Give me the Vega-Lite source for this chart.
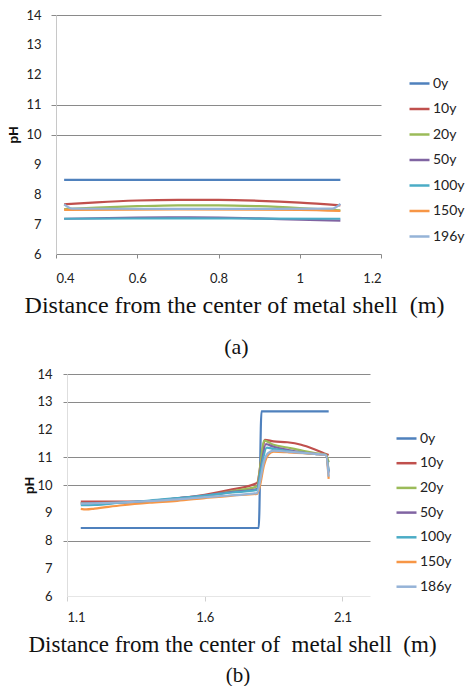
{
  "$schema": "https://vega.github.io/schema/vega-lite/v6.json",
  "padding": {"left": 7, "top": 9, "right": 0, "bottom": 0},
  "background": "white",
  "spacing": 120,
  "align": "all",
  "bounds": "flush",
  "center": true,
  "config": {
    "view": {"stroke": null},
    "font": "Lato",
    "axis": {"labelFont": "Lato", "labelColor": "#222", "labelFontSize": 13, "titleFont": "Liberation Serif", "titleFontWeight": "normal", "titleColor": "#111"},
    "legend": {"labelFont": "Lato", "labelColor": "#222", "padding": 0}
  },
  "resolve": {"scale": {"color": "independent"}},
  "vconcat": [
    {
      "width": 325,
      "height": 239,
      "data": {"values": [
        {"series": "0y", "x": 0.42, "pH": 8.48}, {"series": "0y", "x": 0.7, "pH": 8.48}, {"series": "0y", "x": 1.1, "pH": 8.48},
        {"series": "10y", "x": 0.42, "pH": 7.66}, {"series": "10y", "x": 0.5, "pH": 7.73}, {"series": "10y", "x": 0.6, "pH": 7.79}, {"series": "10y", "x": 0.7, "pH": 7.81}, {"series": "10y", "x": 0.8, "pH": 7.81}, {"series": "10y", "x": 0.9, "pH": 7.78}, {"series": "10y", "x": 1.0, "pH": 7.72}, {"series": "10y", "x": 1.1, "pH": 7.63},
        {"series": "20y", "x": 0.42, "pH": 7.5}, {"series": "20y", "x": 0.5, "pH": 7.55}, {"series": "20y", "x": 0.6, "pH": 7.6}, {"series": "20y", "x": 0.7, "pH": 7.63}, {"series": "20y", "x": 0.8, "pH": 7.63}, {"series": "20y", "x": 0.9, "pH": 7.6}, {"series": "20y", "x": 1.0, "pH": 7.54}, {"series": "20y", "x": 1.1, "pH": 7.46},
        {"series": "50y", "x": 0.42, "pH": 7.18}, {"series": "50y", "x": 0.6, "pH": 7.22}, {"series": "50y", "x": 0.7, "pH": 7.23}, {"series": "50y", "x": 0.8, "pH": 7.22}, {"series": "50y", "x": 0.9, "pH": 7.19}, {"series": "50y", "x": 1.0, "pH": 7.15}, {"series": "50y", "x": 1.1, "pH": 7.12},
        {"series": "100y", "x": 0.42, "pH": 7.18}, {"series": "100y", "x": 0.7, "pH": 7.19}, {"series": "100y", "x": 1.1, "pH": 7.18},
        {"series": "150y", "x": 0.42, "pH": 7.48}, {"series": "150y", "x": 0.7, "pH": 7.49}, {"series": "150y", "x": 1.0, "pH": 7.48}, {"series": "150y", "x": 1.1, "pH": 7.44},
        {"series": "196y", "x": 0.42, "pH": 7.66}, {"series": "196y", "x": 0.44, "pH": 7.52}, {"series": "196y", "x": 0.7, "pH": 7.51}, {"series": "196y", "x": 1.08, "pH": 7.52}, {"series": "196y", "x": 1.1, "pH": 7.68}
      ]},
      "mark": {"type": "line", "strokeWidth": 2.2, "interpolate": "monotone"},
      "encoding": {
        "x": {"field": "x", "type": "quantitative", "scale": {"domain": [0.4, 1.2], "nice": false, "zero": false},
          "axis": {"values": [0.4, 0.6, 0.8, 1.0, 1.2], "format": "~g", "grid": false, "domainColor": "#8a8a8a", "tickColor": "#8a8a8a", "tickSize": 4, "labelPadding": 14,
            "title": "Distance from the center of metal shell\u00a0\u00a0(m)", "titleFontSize": 24, "titlePadding": 8, "titleX": 178}},
        "y": {"field": "pH", "type": "quantitative", "scale": {"domain": [6, 14], "nice": false, "zero": false},
          "axis": {"values": [6, 7, 8, 9, 10, 11, 12, 13, 14], "grid": true, "gridColor": "#8a8a8a",
            "gridOpacity": {"condition": {"test": "datum.value == 14 || datum.value == 11 || datum.value == 10", "value": 1}, "value": 0},
            "tickColor": "#8a8a8a", "tickOpacity": {"condition": {"test": "datum.value == 14 || datum.value == 11 || datum.value == 10", "value": 1}, "value": 0},
            "tickSize": 5, "labelPadding": 10, "domainColor": "#c8c8c8",
            "title": "pH", "titleFont": "Liberation Sans", "titleFontWeight": "bold", "titleFontSize": 13, "titlePadding": 5}},
        "color": {"field": "series", "type": "nominal",
          "scale": {"domain": ["0y", "10y", "20y", "50y", "100y", "150y", "196y"], "range": ["#4F81BD", "#C0504D", "#9BBB59", "#8064A2", "#4BACC6", "#F79646", "#95B3D7"]},
          "legend": {"title": null, "orient": "none", "legendX": 352, "legendY": 57, "symbolType": "stroke", "symbolSize": 400, "symbolStrokeWidth": 2.5, "labelFontSize": 14, "labelOffset": 2, "rowPadding": 6.5}}
      },
      "title": {"text": "(a)", "orient": "bottom", "font": "Liberation Serif", "fontSize": 22, "fontWeight": "normal", "color": "#111", "anchor": "middle", "frame": "bounds", "offset": 20}
    },
    {
      "width": 303,
      "height": 222,
      "data": {"values": [
        {"series": "0y", "x": 1.15, "pH": 8.45}, {"series": "0y", "x": 1.796, "pH": 8.45}, {"series": "0y", "x": 1.806, "pH": 12.65}, {"series": "0y", "x": 2.05, "pH": 12.65},
        {"series": "10y", "x": 1.15, "pH": 9.4}, {"series": "10y", "x": 1.3, "pH": 9.4}, {"series": "10y", "x": 1.4, "pH": 9.42}, {"series": "10y", "x": 1.5, "pH": 9.52}, {"series": "10y", "x": 1.6, "pH": 9.65}, {"series": "10y", "x": 1.7, "pH": 9.84}, {"series": "10y", "x": 1.79, "pH": 10.07}, {"series": "10y", "x": 1.805, "pH": 10.9}, {"series": "10y", "x": 1.818, "pH": 11.63}, {"series": "10y", "x": 1.85, "pH": 11.57}, {"series": "10y", "x": 1.9, "pH": 11.54}, {"series": "10y", "x": 1.95, "pH": 11.45}, {"series": "10y", "x": 2.0, "pH": 11.28}, {"series": "10y", "x": 2.04, "pH": 11.12}, {"series": "10y", "x": 2.05, "pH": 11.08},
        {"series": "20y", "x": 1.15, "pH": 9.35}, {"series": "20y", "x": 1.3, "pH": 9.37}, {"series": "20y", "x": 1.4, "pH": 9.4}, {"series": "20y", "x": 1.5, "pH": 9.46}, {"series": "20y", "x": 1.6, "pH": 9.6}, {"series": "20y", "x": 1.7, "pH": 9.78}, {"series": "20y", "x": 1.79, "pH": 9.95}, {"series": "20y", "x": 1.803, "pH": 10.8}, {"series": "20y", "x": 1.815, "pH": 11.6}, {"series": "20y", "x": 1.85, "pH": 11.45}, {"series": "20y", "x": 1.9, "pH": 11.35}, {"series": "20y", "x": 1.95, "pH": 11.25}, {"series": "20y", "x": 2.0, "pH": 11.15}, {"series": "20y", "x": 2.04, "pH": 11.1}, {"series": "20y", "x": 2.05, "pH": 10.82},
        {"series": "50y", "x": 1.15, "pH": 9.33}, {"series": "50y", "x": 1.3, "pH": 9.37}, {"series": "50y", "x": 1.4, "pH": 9.42}, {"series": "50y", "x": 1.5, "pH": 9.52}, {"series": "50y", "x": 1.6, "pH": 9.62}, {"series": "50y", "x": 1.7, "pH": 9.75}, {"series": "50y", "x": 1.79, "pH": 9.85}, {"series": "50y", "x": 1.805, "pH": 10.7}, {"series": "50y", "x": 1.822, "pH": 11.47}, {"series": "50y", "x": 1.85, "pH": 11.38}, {"series": "50y", "x": 1.9, "pH": 11.27}, {"series": "50y", "x": 1.95, "pH": 11.18}, {"series": "50y", "x": 2.0, "pH": 11.12}, {"series": "50y", "x": 2.04, "pH": 11.08}, {"series": "50y", "x": 2.05, "pH": 10.45},
        {"series": "100y", "x": 1.15, "pH": 9.27}, {"series": "100y", "x": 1.2, "pH": 9.28}, {"series": "100y", "x": 1.3, "pH": 9.37}, {"series": "100y", "x": 1.4, "pH": 9.44}, {"series": "100y", "x": 1.5, "pH": 9.53}, {"series": "100y", "x": 1.6, "pH": 9.62}, {"series": "100y", "x": 1.7, "pH": 9.73}, {"series": "100y", "x": 1.79, "pH": 9.82}, {"series": "100y", "x": 1.805, "pH": 10.6}, {"series": "100y", "x": 1.825, "pH": 11.35}, {"series": "100y", "x": 1.85, "pH": 11.3}, {"series": "100y", "x": 1.9, "pH": 11.22}, {"series": "100y", "x": 2.0, "pH": 11.12}, {"series": "100y", "x": 2.04, "pH": 11.08}, {"series": "100y", "x": 2.05, "pH": 10.5},
        {"series": "150y", "x": 1.15, "pH": 9.14}, {"series": "150y", "x": 1.17, "pH": 9.12}, {"series": "150y", "x": 1.2, "pH": 9.15}, {"series": "150y", "x": 1.3, "pH": 9.27}, {"series": "150y", "x": 1.4, "pH": 9.36}, {"series": "150y", "x": 1.5, "pH": 9.43}, {"series": "150y", "x": 1.6, "pH": 9.53}, {"series": "150y", "x": 1.7, "pH": 9.62}, {"series": "150y", "x": 1.79, "pH": 9.68}, {"series": "150y", "x": 1.8, "pH": 9.95}, {"series": "150y", "x": 1.815, "pH": 10.7}, {"series": "150y", "x": 1.83, "pH": 11.08}, {"series": "150y", "x": 1.85, "pH": 11.2}, {"series": "150y", "x": 1.9, "pH": 11.18}, {"series": "150y", "x": 2.0, "pH": 11.12}, {"series": "150y", "x": 2.04, "pH": 11.08}, {"series": "150y", "x": 2.05, "pH": 10.22},
        {"series": "186y", "x": 1.15, "pH": 9.33}, {"series": "186y", "x": 1.3, "pH": 9.37}, {"series": "186y", "x": 1.4, "pH": 9.42}, {"series": "186y", "x": 1.5, "pH": 9.48}, {"series": "186y", "x": 1.6, "pH": 9.56}, {"series": "186y", "x": 1.7, "pH": 9.63}, {"series": "186y", "x": 1.79, "pH": 9.71}, {"series": "186y", "x": 1.8, "pH": 10.1}, {"series": "186y", "x": 1.815, "pH": 10.85}, {"series": "186y", "x": 1.83, "pH": 11.15}, {"series": "186y", "x": 1.85, "pH": 11.24}, {"series": "186y", "x": 1.9, "pH": 11.2}, {"series": "186y", "x": 2.0, "pH": 11.12}, {"series": "186y", "x": 2.04, "pH": 11.08}, {"series": "186y", "x": 2.05, "pH": 10.3}
      ]},
      "mark": {"type": "line", "strokeWidth": 2.2, "interpolate": "monotone"},
      "encoding": {
        "x": {"field": "x", "type": "quantitative", "scale": {"domain": [1.1, 2.2], "nice": false, "zero": false},
          "axis": {"values": [1.1, 1.6, 2.1], "format": "~g", "grid": false, "domainColor": "#e6e6e6", "tickColor": "#d0d0d0", "tickSize": 5, "labelPadding": 10,
            "title": "Distance from the center of\u00a0\u00a0metal shell\u00a0\u00a0(m)", "titleFontSize": 23, "titlePadding": 9, "titleX": 165}},
        "y": {"field": "pH", "type": "quantitative", "scale": {"domain": [6, 14], "nice": false, "zero": false},
          "axis": {"values": [6, 7, 8, 9, 10, 11, 12, 13, 14], "grid": true, "gridColor": "#8a8a8a",
            "gridOpacity": {"condition": {"test": "datum.value == 14 || datum.value == 13 || datum.value == 11 || datum.value == 10 || datum.value == 8", "value": 1}, "value": 0},
            "tickColor": "#8a8a8a", "tickOpacity": {"condition": {"test": "datum.value == 14 || datum.value == 13 || datum.value == 11 || datum.value == 10 || datum.value == 8", "value": 1}, "value": 0},
            "tickSize": 4, "labelPadding": 11, "domainColor": "#dedede",
            "title": "pH", "titleFont": "Liberation Sans", "titleFontWeight": "bold", "titleFontSize": 13, "titlePadding": 0}},
        "color": {"field": "series", "type": "nominal",
          "scale": {"domain": ["0y", "10y", "20y", "50y", "100y", "150y", "186y"], "range": ["#4F81BD", "#C0504D", "#9BBB59", "#8064A2", "#4BACC6", "#F79646", "#95B3D7"]},
          "legend": {"title": null, "orient": "none", "legendX": 328, "legendY": 53, "symbolType": "stroke", "symbolSize": 400, "symbolStrokeWidth": 2.5, "labelFontSize": 14, "labelOffset": 2, "rowPadding": 5.7}}
      },
      "title": {"text": "(b)", "orient": "bottom", "font": "Liberation Serif", "fontSize": 21, "fontWeight": "normal", "color": "#111", "anchor": "middle", "frame": "bounds", "offset": 9}
    }
  ]
}
